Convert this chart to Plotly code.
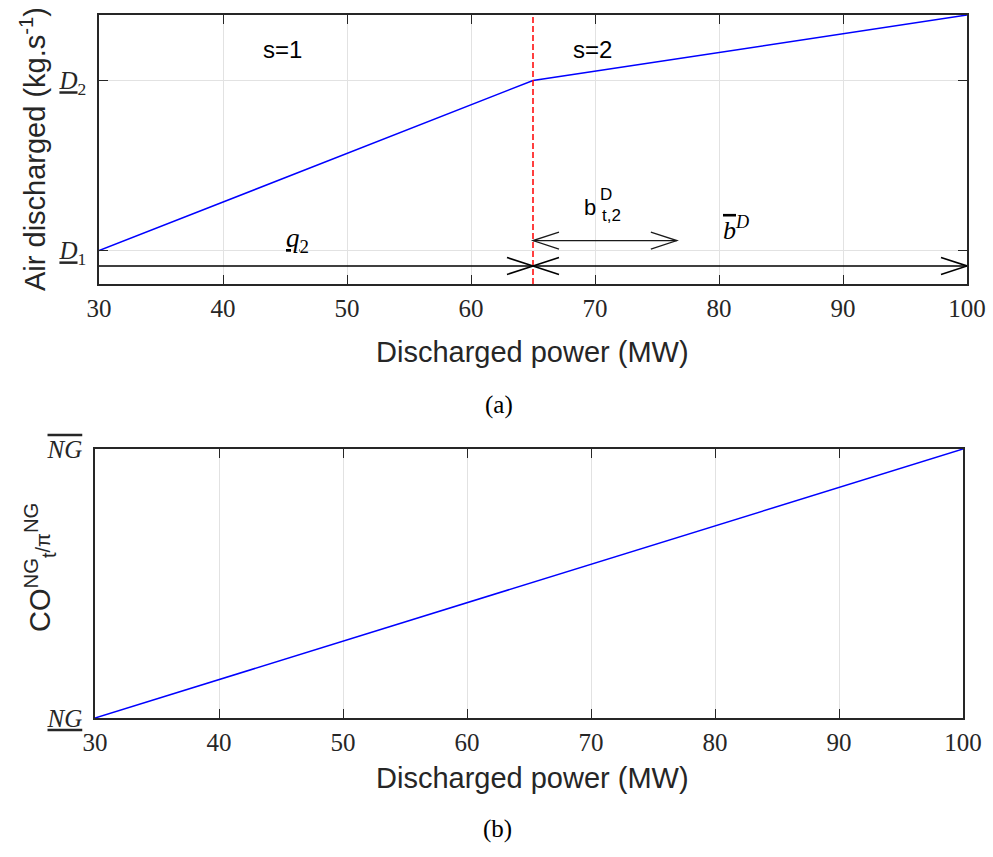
import plotly.graph_objects as go

# ---------------- data ----------------
power_ticks = [30, 40, 50, 60, 70, 80, 90, 100]
power_a = [30, 65, 100]            # discharged power (MW), panel (a)
air_a = [1.0, 2.0, 2.385]          # air discharged (D1 = 1, D2 = 2)
y_range_a = [0.804, 2.385]
air_tick_vals = [1.0, 2.0]
air_tick_text = ["<span style='text-decoration:underline'><i>D</i></span><sub>1</sub>",
                 "<span style='text-decoration:underline'><i>D</i></span><sub>2</sub>"]
breakpoint = 65
arrow_low_y = 0.91
arrow_mid_y = 1.059
b_t2_end = 76.6

power_b = [30, 100]
cost_b = [0.0, 1.0]
cost_tick_vals = [0.0, 1.0]
cost_tick_text = ["<span style='text-decoration:underline'><i>NG</i></span>",
                  "<span style='text-decoration:overline'><i>NG</i></span>"]

# arrows: (x start, x end, y, head at start, head at end, line width, color)
arrows = [
    (30, breakpoint, arrow_low_y, False, True, 1.6, "#000000"),
    (breakpoint, 100, arrow_low_y, True, True, 1.6, "#000000"),
    (breakpoint, b_t2_end, arrow_mid_y, True, True, 1.3, "#1a1a1a"),
]

W, H = 993, 857
SERIF = "Liberation Serif"
SANS = "Liberation Sans"
AX = "#262626"
GRID = "#e2e2e2"


def fx(px):
    return px / W


def fy(py):
    return 1 - py / H


fig = go.Figure()

fig.add_trace(go.Scatter(x=power_a, y=air_a, mode="lines",
                         line=dict(color="#0000ff", width=1.5),
                         xaxis="x", yaxis="y", showlegend=False, hoverinfo="skip"))
fig.add_trace(go.Scatter(x=[breakpoint, breakpoint], y=y_range_a, mode="lines",
                         line=dict(color="#ff0000", width=1.5, dash="6px,3px"),
                         xaxis="x", yaxis="y", showlegend=False, hoverinfo="skip"))

shapes = []
for x0, x1, yv, hs, he, lw, col in arrows:
    fig.add_trace(go.Scatter(x=[x0, x1], y=[yv, yv], mode="lines",
                             line=dict(color=col, width=lw),
                             xaxis="x", yaxis="y", showlegend=False, hoverinfo="skip"))
    for flag, xa, sgn in ((hs, x0, 1), (he, x1, -1)):
        if flag:
            shapes.append(dict(type="path", xref="x", yref="y",
                               xsizemode="pixel", ysizemode="pixel",
                               xanchor=xa, yanchor=yv,
                               path=f"M{sgn*26},8.5L0,0L{sgn*26},-8.5",
                               line=dict(color=col, width=lw)))

fig.add_trace(go.Scatter(x=power_b, y=cost_b, mode="lines",
                         line=dict(color="#0000ff", width=1.5),
                         xaxis="x2", yaxis="y2", showlegend=False, hoverinfo="skip"))

axis_common = dict(ticks="inside", ticklen=9, tickwidth=1.2, tickcolor=AX,
                   showline=True, linecolor=AX, linewidth=1.5, mirror="ticks",
                   showgrid=True, gridcolor=GRID, gridwidth=1, zeroline=False,
                   automargin=False,
                   tickfont=dict(family=SERIF, size=25, color=AX))

fig.update_layout(
    template="none",
    width=W, height=H, margin=dict(l=0, r=0, t=0, b=0, pad=0, autoexpand=False),
    paper_bgcolor="white", plot_bgcolor="white", showlegend=False,
    xaxis=dict(domain=[fx(99), fx(967)], range=[30, 100], anchor="y",
               tickvals=power_ticks, ticklabelstandoff=1, **axis_common),
    yaxis=dict(domain=[fy(284), fy(15)], range=y_range_a, anchor="x",
               tickvals=air_tick_vals, ticktext=air_tick_text,
               ticklabelstandoff=6, **axis_common),
    xaxis2=dict(domain=[fx(95), fx(963)], range=[30, 100], anchor="y2",
                tickvals=power_ticks, ticklabelstandoff=1, **axis_common),
    yaxis2=dict(domain=[fy(718), fy(449)], range=[0, 1], anchor="x2",
                tickvals=cost_tick_vals, ticktext=cost_tick_text,
                ticklabelstandoff=6, **axis_common),
    shapes=shapes,
)

ann = []


def paper_text(text, px, py, size, family, color="#000000", angle=0):
    ann.append(dict(text=text, x=fx(px), y=fy(py), xref="paper", yref="paper",
                    showarrow=False, xanchor="center", yanchor="middle",
                    textangle=angle, font=dict(family=family, size=size, color=color)))


def data_text(text, x, y, size, family, color="#000000", xanchor="center"):
    ann.append(dict(text=text, x=x, y=y, xref="x", yref="y", showarrow=False,
                    xanchor=xanchor, yanchor="middle",
                    font=dict(family=family, size=size, color=color)))


# axis titles and captions
paper_text("Discharged power (MW)", 532, 352, 29, SANS, AX)
paper_text("(a)", 499, 405, 25, SERIF)
paper_text("Air discharged (kg.s<sup>-1</sup>)", 33, 149, 29, SANS, AX, -90)
paper_text("Discharged power (MW)", 532, 778, 29, SANS, AX)
paper_text("(b)", 497, 829, 25, SERIF)
paper_text("CO<sup>NG</sup><sub>t</sub><span style='font-size:20px'>/π</span><sup>NG</sup>",
           40, 568, 29, SANS, AX, -90)

# in-plot labels (panel a)
data_text("s=1", 44.8, 2.18, 24, SANS)
data_text("s=2", 69.8, 2.18, 24, SANS)
data_text("<span style='text-decoration:underline'><i>q</i></span><sub>2</sub>", 46.0, 1.06, 27, SERIF)
data_text("<span style='text-decoration:overline'><i>b</i></span><sup><i>D</i></sup>", 81.4, 1.13, 26, SERIF)
data_text("b", 69.6, 1.251, 22, SANS)
data_text("D", 70.9, 1.33, 17, SANS)
data_text("t,2", 71.3, 1.204, 17, SANS)

fig.update_layout(annotations=ann)

post = ("document.documentElement.style.margin='0';"
        "document.documentElement.style.overflow='hidden';"
        "document.body.style.margin='0';"
        "document.body.style.overflow='hidden';")
fig.write_html("out.html", post_script=post)
